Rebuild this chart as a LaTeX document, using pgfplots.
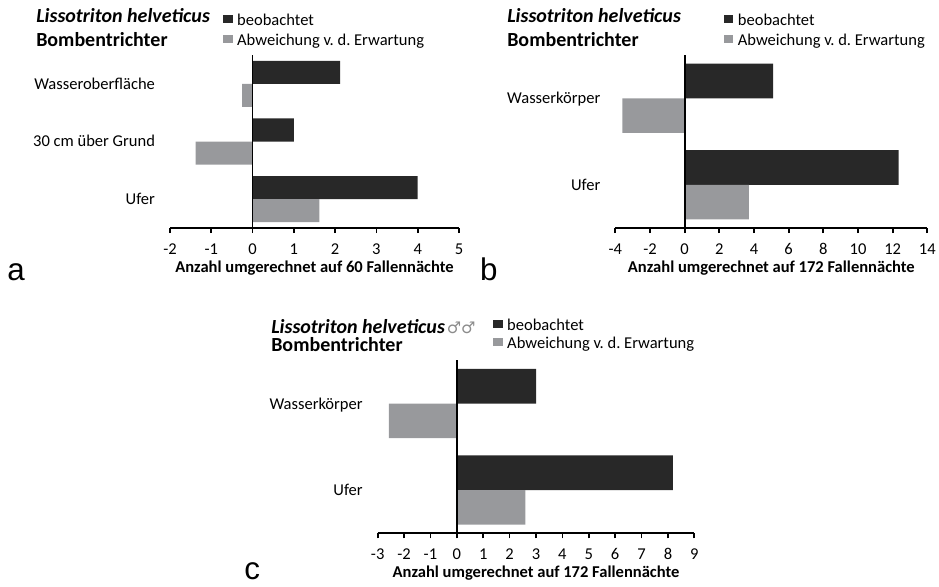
\documentclass[border=0pt]{standalone}
\usepackage{fontspec}
\setmainfont{Carlito}
\newfontfamily\arialfont{Liberation Sans}
\newfontfamily\symfont{DejaVu Sans}
\usepackage{pgfplots}
\pgfplotsset{compat=1.18}
\definecolor{obs}{RGB}{40,40,40}
\definecolor{dev}{RGB}{152,153,156}
\newcommand{\fs}{\fontsize{12.4}{14.5}\selectfont}
\newcommand{\ft}{\fontsize{15}{17}\selectfont}
\pgfplotsset{
  panel/.style={
    scale only axis, xbar, clip=false,
    height=129.75pt,
    axis x line*=bottom, axis y line*=left,
    y axis line style={draw=none},
    x axis line style={line width=1.3pt, black},
    ytick style={draw=none},
    xtick style={line width=1.3pt, black},
    tick align=outside,
    major tick length=3.75pt,
    bar width=0.4,
    /pgf/number format/assume math mode=true,
    tick label style={font=\fs, text=black},
    xticklabel style={anchor=base, yshift=-16pt},
    yticklabel style={anchor=base east, yshift=-4.1pt, xshift=-4pt},
    xlabel style={font=\fs\bfseries, at={(axis description cs:0.5,0)}, anchor=base, yshift=-33pt},
    legend cell align=left,
    legend style={draw=none, fill=none, inner sep=0pt, outer sep=0pt, anchor=north west,
      font=\fs, column sep=3.4pt,
      nodes={inner sep=0pt, text height=9pt, text depth=3pt}},
  },
  sq/.style={legend image code/.code={\fill[##1] (0pt,-1.6pt) rectangle (7pt,4.6pt);}},
}
\begin{document}
\begin{tikzpicture}
\path[use as bounding box] (0,0) rectangle (704.25pt,-439.5pt);
% ---------- panel a ----------
\begin{axis}[panel, at={(127.5pt,-171pt)}, anchor=south west,
  width=216.75pt,
  xmin=-2, xmax=5, xtick={-2,-1,0,1,2,3,4,5},
  ymin=-0.5, ymax=2.5, ytick={0,1,2},
  yticklabels={Ufer,30 cm über Grund,Wasseroberfläche},
  xlabel={Anzahl umgerechnet auf 60 Fallennächte},
  legend style={at={(axis description cs:0.1844,1.2428)}, row sep=3pt}]
\addplot[fill=obs, draw=none, bar shift=0.2, sq] coordinates {(4.0,0) (1.0,1) (2.12,2)};
\addplot[fill=dev, draw=none, bar shift=-0.2, sq] coordinates {(1.62,0) (-1.38,1) (-0.25,2)};
\legend{beobachtet, Abweichung v.\ d.\ Erwartung}
\draw[line width=1.3pt, black] (axis cs:0,-0.5) -- (axis cs:0,2.5);
\end{axis}
% ---------- panel b ----------
\begin{axis}[panel, at={(461.5pt,-171pt)}, anchor=south west,
  width=234pt,
  xmin=-4, xmax=14, xtick={-4,-2,0,2,4,6,8,10,12,14},
  ymin=-0.5, ymax=1.5, ytick={0,1},
  yticklabels={Ufer,Wasserkörper},
  xlabel={Anzahl umgerechnet auf 172 Fallennächte},
  legend style={at={(axis description cs:0.3483,1.2428)}, row sep=3pt}]
\addplot[fill=obs, draw=none, bar shift=0.2, sq] coordinates {(12.35,0) (5.1,1)};
\addplot[fill=dev, draw=none, bar shift=-0.2, sq] coordinates {(3.71,0) (-3.6,1)};
\legend{beobachtet, Abweichung v.\ d.\ Erwartung}
\draw[line width=1.3pt, black] (axis cs:0,-0.5) -- (axis cs:0,1.5);
\end{axis}
% ---------- panel c ----------
\begin{axis}[panel, at={(283.25pt,-400pt)}, anchor=south west,
  width=237.5pt,
  xmin=-3, xmax=9, xtick={-3,-2,-1,0,1,2,3,4,5,6,7,8,9},
  ymin=-0.5, ymax=1.5, ytick={0,1},
  yticklabels={Ufer,Wasserkörper},
  xlabel={Anzahl umgerechnet auf 172 Fallennächte},
  legend style={at={(axis description cs:0.3652,1.2447)}, row sep=1.5pt}]
\addplot[fill=obs, draw=none, bar shift=0.2, sq] coordinates {(8.19,0) (3.0,1)};
\addplot[fill=dev, draw=none, bar shift=-0.2, sq] coordinates {(2.6,0) (-2.58,1)};
\legend{beobachtet, Abweichung v.\ d.\ Erwartung}
\draw[line width=1.3pt, black] (axis cs:0,-0.5) -- (axis cs:0,1.5);
\end{axis}
% ---------- titles ----------
\node[anchor=base west, inner sep=0pt, font=\ft\bfseries\itshape] at (27pt,-17pt) {Lissotriton helveticus};
\node[anchor=base west, inner sep=0pt, font=\ft\bfseries] at (27pt,-35pt) {Bombentrichter};
\node[anchor=base west, inner sep=0pt, font=\ft\bfseries\itshape] at (380.25pt,-17pt) {Lissotriton helveticus};
\node[anchor=base west, inner sep=0pt, font=\ft\bfseries] at (380.25pt,-35pt) {Bombentrichter};
\node[anchor=base west, inner sep=0pt, font=\ft\bfseries\itshape] at (203.25pt,-250pt) {Lissotriton helveticus\hspace{1.5pt}{\symfont\fontsize{12}{14}\selectfont\mdseries\upshape\color{black!45}♂♂}};
\node[anchor=base west, inner sep=0pt, font=\ft\bfseries] at (203.25pt,-263.8pt) {Bombentrichter};
% ---------- panel letters ----------
\node[anchor=base west, inner sep=0pt, font=\arialfont\fontsize{23.5}{26}\selectfont] at (5.25pt,-210pt) {a};
\node[anchor=base west, inner sep=0pt, font=\arialfont\fontsize{23.5}{26}\selectfont] at (359.8pt,-210pt) {b};
\node[anchor=base west, inner sep=0pt, font=\arialfont\fontsize{23.5}{26}\selectfont] at (183pt,-434.5pt) {c};
\end{tikzpicture}
\end{document}
